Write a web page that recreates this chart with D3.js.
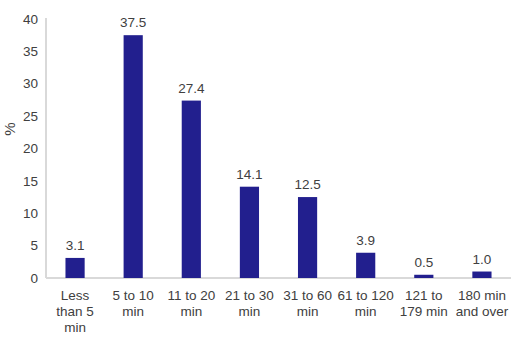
<!DOCTYPE html>
<html>
<head>
<meta charset="utf-8">
<script src="https://cdn.jsdelivr.net/npm/d3@7"></script>
<style>
  body { margin: 0; background: #fff; }
  text { font-family: "Liberation Sans", Arial, sans-serif; fill: #404040; }
</style>
</head>
<body>
<svg id="chart" width="528" height="341"></svg>
<script>
const categories = [
    ["Less", "than 5", "min"],
    ["5 to 10", "min"],
    ["11 to 20", "min"],
    ["21 to 30", "min"],
    ["31 to 60", "min"],
    ["61 to 120", "min"],
    ["121 to", "179 min"],
    ["180 min", "and over"]
];
const values = [3.1, 37.5, 27.4, 14.1, 12.5, 3.9, 0.5, 1.0];
const yTicks = [0, 5, 10, 15, 20, 25, 30, 35, 40];

const margin = { top: 19, right: 17, bottom: 63, left: 46 };
const width = 528 - margin.left - margin.right;
const height = 341 - margin.top - margin.bottom;

const svg = d3.select("#chart");
const g = svg.append("g").attr("transform", `translate(${margin.left},${margin.top})`);

const x = d3.scaleBand()
    .domain(d3.range(values.length))
    .range([0, width])
    .paddingInner(0.67)
    .paddingOuter(0.335);

const y = d3.scaleLinear().domain([0, 40]).range([height, 0]);

// axis lines
g.append("line")
    .attr("x1", 0).attr("x2", 0)
    .attr("y1", -1).attr("y2", height)
    .attr("stroke", "#d9d9d9").attr("stroke-width", 2);
g.append("line")
    .attr("x1", 0).attr("x2", width)
    .attr("y1", height).attr("y2", height)
    .attr("stroke", "#d9d9d9").attr("stroke-width", 2);

// y tick labels
g.selectAll(".ytick")
    .data(yTicks)
    .enter()
    .append("text")
    .attr("class", "ytick")
    .attr("x", -8)
    .attr("y", d => y(d))
    .attr("dy", "0.35em")
    .attr("text-anchor", "end")
    .style("font-size", "13.5px")
    .text(d => d);

// bars
g.selectAll(".bar")
    .data(values)
    .enter()
    .append("rect")
    .attr("class", "bar")
    .attr("x", (d, i) => x(i))
    .attr("width", x.bandwidth())
    .attr("y", d => y(d))
    .attr("height", d => height - y(d))
    .attr("fill", "#221f8e");

// value labels
g.selectAll(".val")
    .data(values)
    .enter()
    .append("text")
    .attr("class", "val")
    .attr("x", (d, i) => x(i) + x.bandwidth() / 2)
    .attr("y", d => y(d) - 8)
    .attr("text-anchor", "middle")
    .style("font-size", "13.5px")
    .text(d => d.toFixed(1));

// category labels
const cats = g.selectAll(".cat")
    .data(categories)
    .enter()
    .append("text")
    .attr("class", "cat")
    .attr("text-anchor", "middle")
    .style("font-size", "13.5px")
    .attr("transform", (d, i) => `translate(${x(i) + x.bandwidth() / 2},${height + 22})`);

cats.selectAll("tspan")
    .data(d => d)
    .enter()
    .append("tspan")
    .attr("x", 0)
    .attr("y", (d, i) => i * 16)
    .text(d => d);

// y axis title
svg.append("text")
    .attr("transform", "translate(15,129) rotate(-90)")
    .attr("text-anchor", "middle")
    .style("font-size", "15px")
    .text("%");
</script>
</body>
</html>
